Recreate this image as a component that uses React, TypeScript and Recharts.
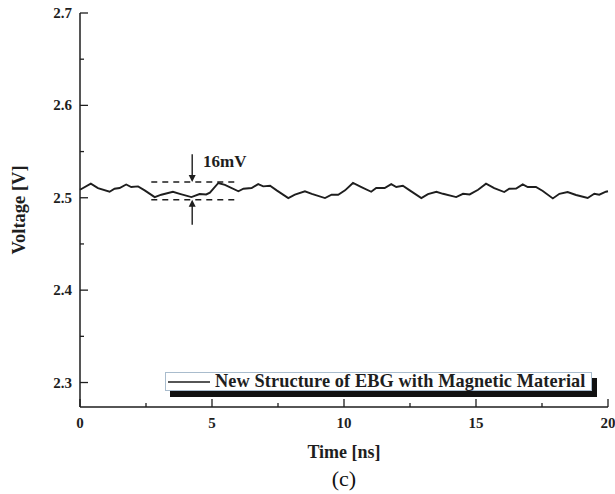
import {
  LineChart,
  Line,
  XAxis,
  YAxis,
  ReferenceLine,
  ReferenceDot,
  Legend,
} from "recharts";

const FONT = '"Liberation Serif", "Times New Roman", serif';
const INK = "#1e1e1e";

// Time [ns] samples
const time = [
  0, 0.41, 0.68, 1.12, 1.31, 1.5, 1.75, 1.94, 2.2, 2.45, 2.83, 3.08, 3.52, 3.78, 4.22, 4.53, 4.78,
  4.92, 5.24, 5.49, 6.0, 6.19, 6.5, 6.75, 6.94, 7.2, 7.45, 7.89, 8.14, 8.52, 8.78, 9.28, 9.53, 9.78,
  10.04, 10.34, 10.66, 11.03, 11.22, 11.54, 11.79, 11.98, 12.23, 12.49, 12.93, 13.18, 13.5, 13.75,
  14.25, 14.51, 14.76, 15.08, 15.38, 15.69, 16.07, 16.26, 16.52, 16.77, 16.96, 17.27, 17.53, 17.91,
  18.16, 18.47, 18.79, 19.23, 19.48, 19.67, 19.92, 20,
];

// Voltage [V]
const voltage = [
  2.5087, 2.5152, 2.5105, 2.5065, 2.5098, 2.5105, 2.5144, 2.5116, 2.5123, 2.508, 2.5007, 2.5033,
  2.5065, 2.5043, 2.5007, 2.504, 2.5036,
  2.5055, 2.516, 2.514, 2.507, 2.5098, 2.5105, 2.5148, 2.5123, 2.513, 2.508, 2.4997, 2.5033, 2.507,
  2.5043, 2.4997, 2.5033, 2.5033,
  2.508, 2.516, 2.5116, 2.5065, 2.5105, 2.5105, 2.5148, 2.5116, 2.513, 2.508, 2.4997, 2.504, 2.5065,
  2.5043, 2.5007, 2.5043, 2.5036,
  2.5087, 2.5152, 2.5105, 2.5062, 2.5098, 2.51, 2.5144, 2.5116, 2.5116, 2.5073, 2.4993, 2.5043,
  2.5062, 2.503, 2.4997, 2.5043, 2.5033, 2.5065, 2.507,
];

const xTicks = [0, 2.5, 5, 7.5, 10, 12.5, 15, 17.5, 20];
const yTicks = [2.3, 2.35, 2.4, 2.45, 2.5, 2.55, 2.6, 2.65, 2.7];

// 16mV ripple annotation
const rippleHigh = 2.517;
const rippleLow = 2.4978;
const rippleSpan = [2.7, 5.9];
const arrowX = 4.25;

const data = time.map((t, i) => ({ t, v: voltage[i] }));

const isMajorX = (v: number) => v % 5 === 0;
const isMajorY = (v: number) => Math.abs(v * 10 - Math.round(v * 10)) < 1e-6;

const BottomTick = ({ x, y, payload }: any) => {
  const major = isMajorX(payload.value);
  return (
    <g>
      <line x1={x} x2={x} y1={y} y2={y - (major ? 8 : 4)} stroke={INK} strokeWidth={1.3} />
      {major && (
        <text x={x} y={y + 21} textAnchor="middle" fontFamily={FONT} fontWeight={700} fontSize={15} fill={INK}>
          {payload.value}
        </text>
      )}
    </g>
  );
};

const TopTick = ({ x, y, payload }: any) => (
  <line x1={x} x2={x} y1={y} y2={y + (isMajorX(payload.value) ? 8 : 4)} stroke={INK} strokeWidth={1.3} />
);

const LeftTick = ({ x, y, payload }: any) => {
  const major = isMajorY(payload.value);
  return (
    <g>
      <line x1={x} x2={x + (major ? 8 : 4)} y1={y} y2={y} stroke={INK} strokeWidth={1.3} />
      {major && (
        <text x={x - 8} y={y + 5} textAnchor="end" fontFamily={FONT} fontWeight={700} fontSize={15} fill={INK}>
          {payload.value.toFixed(1)}
        </text>
      )}
    </g>
  );
};

const RightTick = ({ x, y, payload }: any) => (
  <line x1={x} x2={x - (isMajorY(payload.value) ? 8 : 4)} y1={y} y2={y} stroke={INK} strokeWidth={1.3} />
);

const ArrowHead = ({ cx, cy, dir }: any) => {
  const h = dir === "down" ? -7 : 7;
  return <path d={`M${cx},${cy} L${cx - 3.5},${cy + h} L${cx + 3.5},${cy + h} Z`} fill={INK} />;
};

const RippleText = ({ cx, cy }: any) => (
  <text x={cx} y={cy} fontFamily={FONT} fontWeight={700} fontSize={17} fill={INK}>
    16mV
  </text>
);

const LegendBox = () => (
  <div style={{ position: "relative", width: 427, height: 19 }}>
    <div style={{ position: "absolute", left: 5, top: 6, width: 427, height: 19, background: "#111" }} />
    <div
      style={{
        position: "absolute",
        left: 0,
        top: 0,
        width: 427,
        height: 19,
        boxSizing: "border-box",
        background: "#fff",
        border: "1px solid #a9bccd",
        display: "flex",
        alignItems: "center",
        fontFamily: FONT,
        fontWeight: 700,
        fontSize: 18.3,
        letterSpacing: 0.1,
        color: INK,
        whiteSpace: "nowrap",
      }}
    >
      <svg width={46} height={17} style={{ flex: "none" }}>
        <line x1={2} x2={44} y1={9} y2={9} stroke={INK} strokeWidth={1.5} />
      </svg>
      <span style={{ marginLeft: 3 }}>New Structure of EBG with Magnetic Material</span>
    </div>
  </div>
);

export default function App() {
  return (
    <div style={{ position: "absolute", left: 0, top: 0, width: 615, height: 494, background: "#fff" }}>
      <LineChart width={615} height={494} data={data} margin={{ top: 13, right: 7, bottom: 0, left: 0 }}>
        <XAxis
          xAxisId="b"
          dataKey="t"
          type="number"
          domain={[0, 20]}
          ticks={xTicks}
          interval={0}
          height={87}
          tickSize={0}
          tickMargin={0}
          tick={<BottomTick />}
          axisLine={{ stroke: INK, strokeWidth: 1.5 }}
          label={(p: any) => {
            const vb = p.viewBox;
            return (
              <text
                x={vb.x + vb.width / 2}
                y={458}
                textAnchor="middle"
                fontFamily={FONT}
                fontWeight={700}
                fontSize={18}
                fill={INK}
              >
                Time [ns]
              </text>
            );
          }}
        />
        <XAxis
          xAxisId="t"
          orientation="top"
          dataKey="t"
          type="number"
          domain={[0, 20]}
          ticks={xTicks}
          interval={0}
          height={0}
          tickSize={0}
          tickMargin={0}
          tick={<TopTick />}
          axisLine={{ stroke: INK, strokeWidth: 1.5 }}
        />
        <YAxis
          yAxisId="l"
          type="number"
          domain={[2.2735, 2.7]}
          allowDataOverflow
          ticks={yTicks}
          interval={0}
          width={80}
          tickSize={0}
          tickMargin={0}
          tick={<LeftTick />}
          axisLine={{ stroke: INK, strokeWidth: 1.5 }}
          label={(p: any) => {
            const vb = p.viewBox;
            const cy = vb.y + vb.height / 2;
            return (
              <text
                x={25}
                y={cy}
                transform={`rotate(-90 25 ${cy})`}
                textAnchor="middle"
                fontFamily={FONT}
                fontWeight={700}
                fontSize={18.5}
                fill={INK}
              >
                Voltage [V]
              </text>
            );
          }}
        />
        <YAxis
          yAxisId="r"
          orientation="right"
          type="number"
          domain={[2.2735, 2.7]}
          allowDataOverflow
          ticks={yTicks}
          interval={0}
          width={0}
          tickSize={0}
          tickMargin={0}
          tick={<RightTick />}
          axisLine={{ stroke: INK, strokeWidth: 1.5 }}
        />
        <ReferenceLine
          xAxisId="b"
          yAxisId="l"
          segment={[{ x: rippleSpan[0], y: rippleHigh }, { x: rippleSpan[1], y: rippleHigh }]}
          stroke={INK}
          strokeWidth={1.4}
          strokeDasharray="6 5"
        />
        <ReferenceLine
          xAxisId="b"
          yAxisId="l"
          segment={[{ x: rippleSpan[0], y: rippleLow }, { x: rippleSpan[1], y: rippleLow }]}
          stroke={INK}
          strokeWidth={1.4}
          strokeDasharray="6 5"
        />
        <ReferenceLine
          xAxisId="b"
          yAxisId="l"
          segment={[{ x: arrowX, y: 2.547 }, { x: arrowX, y: rippleHigh + 0.002 }]}
          stroke={INK}
          strokeWidth={1.4}
        />
        <ReferenceLine
          xAxisId="b"
          yAxisId="l"
          segment={[{ x: arrowX, y: 2.4707 }, { x: arrowX, y: rippleLow - 0.002 }]}
          stroke={INK}
          strokeWidth={1.4}
        />
        <ReferenceDot xAxisId="b" yAxisId="l" x={arrowX} y={rippleHigh} shape={<ArrowHead dir="down" />} />
        <ReferenceDot xAxisId="b" yAxisId="l" x={arrowX} y={rippleLow} shape={<ArrowHead dir="up" />} />
        <ReferenceDot xAxisId="b" yAxisId="l" x={4.66} y={2.533} shape={<RippleText />} />
        <Line
          xAxisId="b"
          yAxisId="l"
          dataKey="v"
          type="linear"
          stroke={INK}
          strokeWidth={1.9}
          dot={false}
          isAnimationActive={false}
        />
        <Legend
          layout="horizontal"
          verticalAlign="middle"
          align="center"
          content={<LegendBox />}
          wrapperStyle={{ position: "absolute", left: 165, top: 372, width: 440 }}
        />
      </LineChart>
      <div
        style={{
          position: "absolute",
          left: 80,
          width: 528,
          top: 466,
          textAlign: "center",
          fontFamily: FONT,
          fontSize: 22,
          lineHeight: "26px",
          color: "#111",
        }}
      >
        (c)
      </div>
    </div>
  );
}
